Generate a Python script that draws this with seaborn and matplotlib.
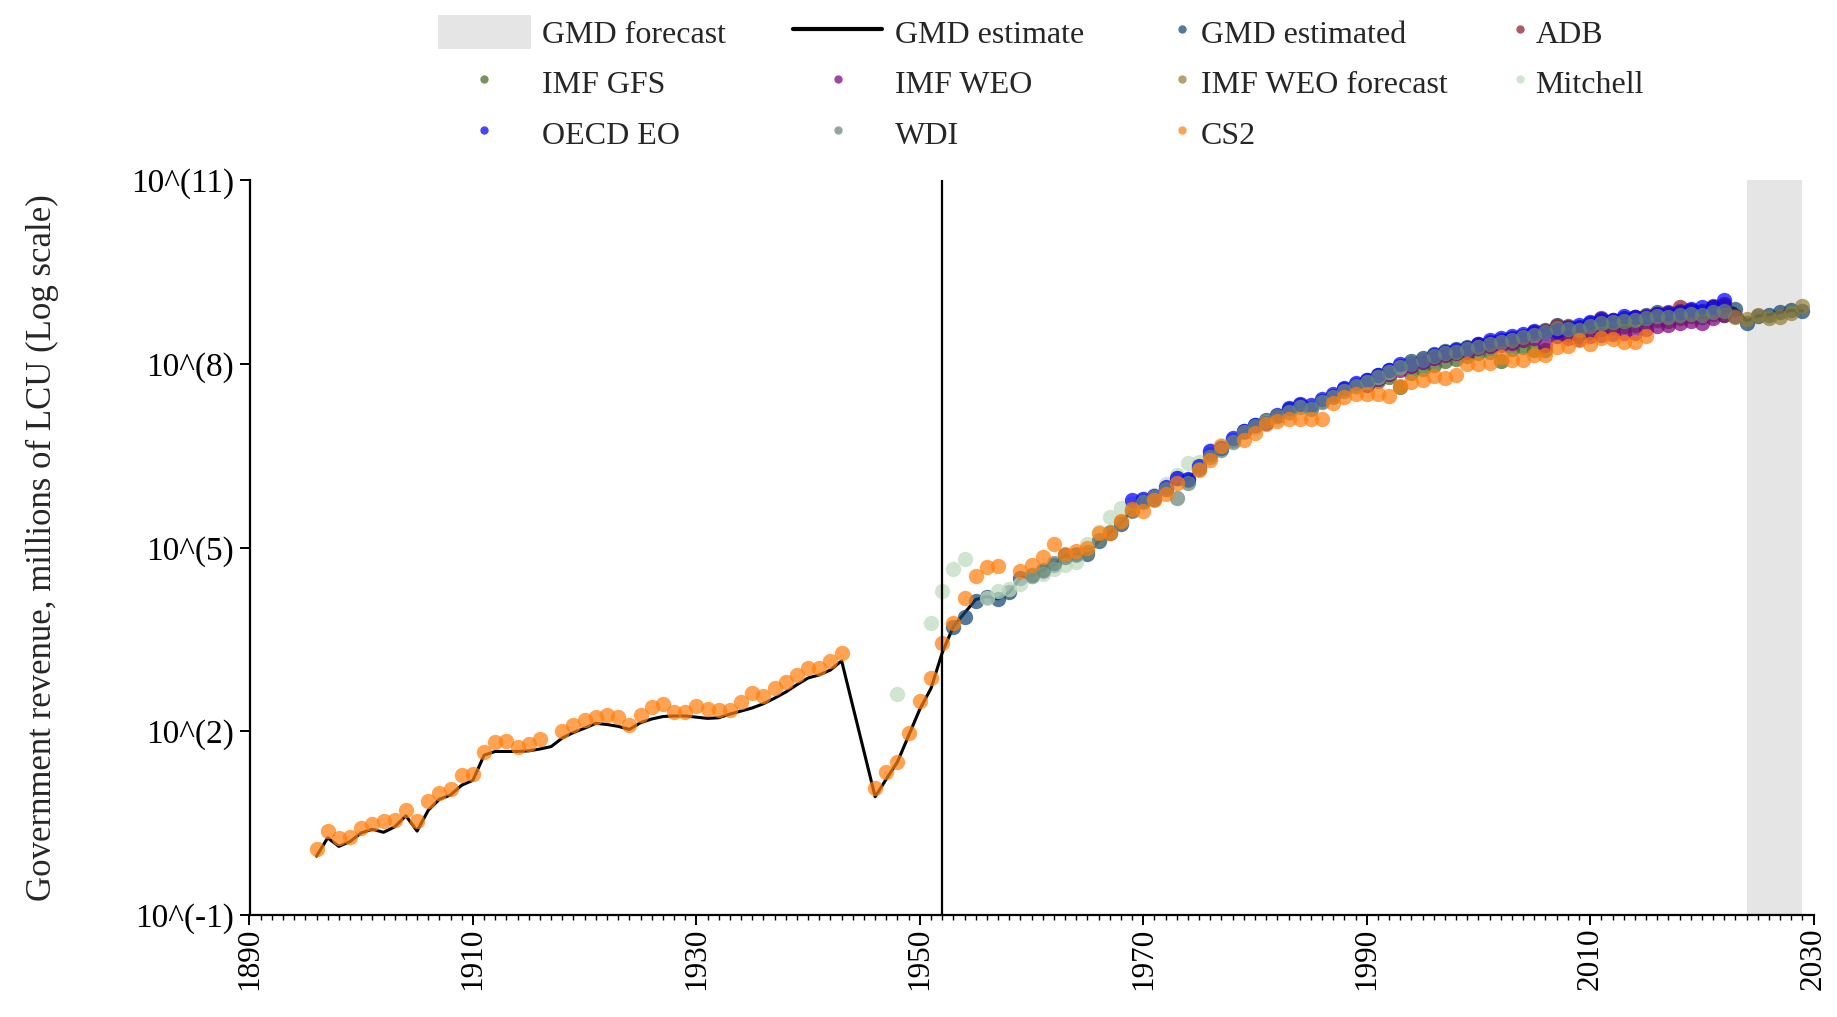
import numpy as np
import pandas as pd
import matplotlib
matplotlib.use("Agg")
import matplotlib.pyplot as plt
import seaborn as sns
from matplotlib.lines import Line2D
from matplotlib.patches import Patch
from matplotlib.ticker import MultipleLocator, FixedLocator, NullLocator

# ---------------- data (log10 of millions of LCU) ----------------
line_years = list(range(1896, 1944)) + list(range(1946, 2030))
line_log10 = [-0.04, 0.26, 0.12, 0.20, 0.34, 0.40, 0.35, 0.44, 0.62, 0.37,
              0.71, 0.89, 0.96, 1.12, 1.20, 1.61, 1.67, 1.67, 1.67, 1.68,
              1.71, 1.75, 1.89, 1.98, 2.05, 2.13, 2.11, 2.08, 2.03, 2.14,
              2.20, 2.24, 2.25, 2.25, 2.23, 2.21, 2.22, 2.28, 2.33, 2.38,
              2.45, 2.54, 2.64, 2.76, 2.87, 2.92, 3.00, 3.15,
              0.93, 1.22, 1.50, 1.93, 2.36, 2.70, 3.28, 3.71, 3.93, 4.15,
              4.20, 4.16, 4.27, 4.50, 4.54, 4.62, 4.72, 4.87, 4.88, 4.90,
              5.10, 5.24, 5.39, 5.62, 5.76, 5.80, 5.95, 6.14, 6.10, 6.30,
              6.52, 6.62, 6.75, 6.90, 7.00, 7.08, 7.14, 7.26, 7.32, 7.28,
              7.40, 7.48, 7.58, 7.66, 7.74, 7.82, 7.90, 7.97, 8.04, 8.10,
              8.16, 8.21, 8.24, 8.27, 8.32, 8.36, 8.38, 8.42, 8.46, 8.52,
              8.55, 8.64, 8.62, 8.60, 8.66, 8.70, 8.72, 8.74, 8.76, 8.80,
              8.84, 8.82, 8.86, 8.88, 8.86, 8.92, 8.95, 8.90, 8.70, 8.78,
              8.80, 8.84, 8.87, 8.86]

gmd_years = list(range(1953, 2030))
gmd_log10 = [3.71, 3.86, 4.12, 4.20, 4.16, 4.27, 4.50, 4.54, 4.62, 4.72,
             4.87, 4.88, 4.90, 5.10, 5.24, 5.39, 5.62, 5.76, 5.80, 5.95,
             6.14, 6.10, 6.30, 6.52, 6.62, 6.75, 6.90, 7.00, 7.08, 7.14,
             7.26, 7.32, 7.28, 7.40, 7.48, 7.58, 7.66, 7.74, 7.82, 7.90,
             7.97, 8.04, 8.10, 8.16, 8.21, 8.24, 8.27, 8.32, 8.36, 8.38,
             8.42, 8.46, 8.52, 8.55, 8.64, 8.62, 8.60, 8.66, 8.70, 8.72,
             8.74, 8.76, 8.80, 8.84, 8.82, 8.86, 8.88, 8.86, 8.92, 8.95,
             8.90, 8.67, 8.78, 8.80, 8.84, 8.87, 8.86]

adb_years = list(range(2000, 2023))
adb_log10 = [8.30, 8.34, 8.36, 8.40, 8.44, 8.50, 8.53, 8.62, 8.60, 8.58,
             8.64, 8.74, 8.70, 8.72, 8.76, 8.78, 8.82, 8.85, 8.92, 8.86,
             8.84, 8.95, 8.98]

gfs_years = list(range(1990, 2023))
gfs_log10 = [7.66, 7.72, 7.78, 7.62, 7.85, 7.92, 7.98, 8.04, 8.08, 8.12,
             8.18, 8.20, 8.04, 8.24, 8.28, 8.22, 8.23, 8.45, 8.48, 8.46,
             8.52, 8.56, 8.60, 8.62, 8.64, 8.68, 8.72, 8.70, 8.74, 8.78,
             8.76, 8.82, 8.80]

weo_years = list(range(1990, 2024))
weo_log10 = [7.66, 7.75, 7.83, 7.90, 7.96, 8.03, 8.09, 8.14, 8.17, 8.20,
             8.25, 8.29, 8.31, 8.34, 8.38, 8.42, 8.31, 8.45, 8.42, 8.40,
             8.45, 8.47, 8.48, 8.50, 8.51, 8.57, 8.61, 8.64, 8.66, 8.69,
             8.67, 8.75, 8.80, 8.78]

weof_years = list(range(2023, 2030))
weof_log10 = [8.76, 8.73, 8.80, 8.75, 8.77, 8.83, 8.94]

mitchell_years = [1948, 1951, 1952, 1953, 1954, 1956, 1957, 1958, 1959, 1960,
                  1961, 1962, 1963, 1964, 1965, 1966, 1967, 1968, 1969, 1970,
                  1971, 1972, 1973, 1974, 1975, 1976, 1977, 1978, 1979, 1980,
                  1981, 1982, 1983, 1984, 1985, 1986, 1987, 1988, 1989, 1990,
                  1991, 1992, 1993]
mitchell_log10 = [2.61, 3.77, 4.29, 4.65, 4.81, 4.17, 4.29, 4.32, 4.40, 4.53,
                  4.57, 4.65, 4.72, 4.77, 5.05, 5.25, 5.50, 5.65, 5.72, 5.80,
                  5.85, 6.03, 6.18, 6.38, 6.40, 6.60, 6.68, 6.75, 6.88, 6.95,
                  7.05, 7.12, 7.20, 7.30, 7.28, 7.38, 7.45, 7.55, 7.62, 7.70,
                  7.78, 7.86, 7.94]

oecd_years = list(range(1969, 2023))
oecd_log10 = [5.77, 5.80, 5.84, 5.98, 6.14, 6.12, 6.33, 6.57, 6.62, 6.78,
              6.91, 7.00, 7.04, 7.16, 7.28, 7.34, 7.32, 7.42, 7.50, 7.60,
              7.68, 7.74, 7.82, 7.90, 7.99, 8.00, 8.06, 8.14, 8.20, 8.22,
              8.26, 8.33, 8.38, 8.42, 8.45, 8.49, 8.54, 8.52, 8.54, 8.58,
              8.64, 8.68, 8.73, 8.72, 8.78, 8.76, 8.77, 8.82, 8.83, 8.84,
              8.90, 8.93, 8.92, 9.04]

wdi_years = list(range(1960, 2023))
wdi_log10 = [4.55, 4.64, 4.74, 4.85, 4.90, 4.93, 5.12, 5.26, 5.42, 5.60,
             5.74, 5.82, 5.96, 5.81, 6.06, 6.28, 6.48, 6.60, 6.72, 6.88,
             6.98, 7.06, 7.14, 7.22, 7.30, 7.26, 7.38, 7.46, 7.55, 7.63,
             7.70, 7.79, 7.86, 7.94, 8.00, 8.06, 8.12, 8.17, 8.20, 8.24,
             8.28, 8.32, 8.35, 8.39, 8.43, 8.47, 8.52, 8.58, 8.57, 8.55,
             8.62, 8.66, 8.68, 8.70, 8.72, 8.75, 8.78, 8.76, 8.80, 8.82,
             8.80, 8.84, 8.86]

cs2_years = (list(range(1896, 1917)) + list(range(1918, 1944)) +
             list(range(1946, 1958)) + list(range(1959, 1974)) +
             [1975, 1976, 1977] + list(range(1979, 2016)))
cs2_log10 = [0.07, 0.37, 0.26, 0.28, 0.42, 0.49, 0.54, 0.55, 0.71, 0.54,
             0.86, 1.00, 1.05, 1.29, 1.30, 1.66, 1.83, 1.84, 1.75, 1.79,
             1.87,
             2.00, 2.10, 2.18, 2.24, 2.27, 2.24, 2.11, 2.26, 2.39, 2.44,
             2.32, 2.32, 2.41, 2.36, 2.35, 2.35, 2.48, 2.62, 2.57, 2.70,
             2.80, 2.92, 3.04, 3.03, 3.14, 3.27,
             1.07, 1.33, 1.49, 1.97, 2.49, 2.87, 3.44, 3.77, 4.17, 4.54,
             4.68, 4.70,
             4.61, 4.72, 4.84, 5.06, 4.90, 4.94, 4.99, 5.24, 5.24, 5.44,
             5.63, 5.60, 5.78, 5.87, 6.06,
             6.26, 6.43, 6.65,
             6.76, 6.87, 7.01, 7.06, 7.10, 7.10, 7.10, 7.10, 7.36, 7.45,
             7.51, 7.50, 7.51, 7.48, 7.64, 7.71, 7.74, 7.80, 7.77, 7.81,
             7.99, 8.00, 8.02, 8.11, 8.06, 8.06, 8.15, 8.14, 8.28, 8.29,
             8.38, 8.32, 8.42, 8.40, 8.36, 8.35, 8.46]

y_tick_exponents = [-1, 2, 5, 8, 11]
x_ticks = list(range(1890, 2031, 20))
forecast_start, forecast_end = 2024, 2029
split_year = 1952

series = [
    ("GMD estimated", gmd_years, gmd_log10, "#134570"),
    ("ADB", adb_years, adb_log10, "#8d1a29"),
    ("IMF GFS", gfs_years, gfs_log10, "#456922"),
    ("IMF WEO", weo_years, weo_log10, "#7e007e"),
    ("IMF WEO forecast", weof_years, weof_log10, "#947e37"),
    ("Mitchell", mitchell_years, mitchell_log10, "#bfdbbf"),
    ("OECD EO", oecd_years, oecd_log10, "#0000ff"),
    ("WDI", wdi_years, wdi_log10, "#698677"),
    ("CS2", cs2_years, cs2_log10, "#ff7f0e"),
]

# ---------------- figure ----------------
sns.set_style("ticks")
plt.rcParams["font.family"] = ["Liberation Serif", "DejaVu Serif"]

W, H = 1837, 1017
fig = plt.figure(figsize=(W / 100, H / 100), dpi=100)
ax = fig.add_axes([249.5 / W, 1 - 915 / H, (1813.6 - 249.5) / W, (915 - 180) / H])

ax.axvspan(forecast_start, forecast_end, color="#e5e5e5", lw=0, zorder=0)

line_df = pd.DataFrame({"year": line_years, "value": np.power(10.0, line_log10)})
sns.lineplot(data=line_df, x="year", y="value", ax=ax, color="black", lw=2.2,
             estimator=None, zorder=2)

alpha = 0.72
for name, yrs, vals, col in series:
    df = pd.DataFrame({"year": yrs, "value": np.power(10.0, vals)})
    sns.scatterplot(data=df, x="year", y="value", ax=ax, color=col, s=122,
                    alpha=alpha, linewidth=0, legend=False, zorder=3)

ax.axvline(split_year, color="black", lw=1.6, zorder=4)

ax.set_yscale("log")
ax.set_ylim(10.0 ** -1, 10.0 ** 11)
ax.set_xlim(1890, 2030)
ax.yaxis.set_major_locator(FixedLocator([10.0 ** e for e in y_tick_exponents]))
ax.yaxis.set_minor_locator(NullLocator())
ax.set_yticklabels([f"10^({e})" for e in y_tick_exponents])
ax.set_xticks(x_ticks)
ax.set_xticklabels([str(t) for t in x_ticks])
ax.xaxis.set_minor_locator(MultipleLocator(1))

for s in ["top", "right"]:
    ax.spines[s].set_visible(False)
for s in ["left", "bottom"]:
    ax.spines[s].set_color("black")
    ax.spines[s].set_linewidth(1.6)

ax.tick_params(axis="both", which="major", direction="out", length=7, width=1.4,
               color="black", labelsize=24, labelcolor="black", pad=4,
               bottom=True, left=True)
ax.tick_params(axis="x", which="major", labelsize=22.5, pad=2, labelrotation=90)
ax.tick_params(axis="x", which="minor", direction="out", length=3.5, width=1.0,
               color="black", bottom=True)
ax.tick_params(axis="y", which="minor", left=False)

ax.set_xlabel("")
ax.set_ylabel("Government revenue, millions of LCU (Log scale)", fontsize=25)
ax.yaxis.set_label_coords(-0.122, 0.5)

# ---------------- legend (4 columns) ----------------
leg_fs = 23
def mk(col):
    return Line2D([], [], marker="o", linestyle="", markersize=6, color=col,
                  alpha=alpha, markeredgewidth=0)

colors = {n: c for n, _, _, c in series}
col_specs = [
    (438, [Patch(facecolor="#e5e5e5", edgecolor="none"), mk(colors["IMF GFS"]),
           mk(colors["OECD EO"])], ["GMD forecast", "IMF GFS", "OECD EO"], 2.9, 0.35),
    (793, [Line2D([], [], color="black", lw=3), mk(colors["IMF WEO"]),
           mk(colors["WDI"])], ["GMD estimate", "IMF WEO", "WDI"], 2.8, 0.4),
    (1172, [mk(colors["GMD estimated"]), mk(colors["IMF WEO forecast"]),
            mk(colors["CS2"])], ["GMD estimated", "IMF WEO forecast", "CS2"], 0.6, 0.3),
    (1510, [mk(colors["ADB"]), mk(colors["Mitchell"])], ["ADB", "Mitchell"], 0.6, 0.2),
]
for x0, hs, ls, hl, htp in col_specs:
    fig.legend(hs, ls, loc="upper left", bbox_to_anchor=(x0 / W, 1 - 15 / H),
               frameon=False, fontsize=leg_fs, borderpad=0, borderaxespad=0,
               handlelength=hl, handleheight=1.25, handletextpad=htp,
               labelspacing=0.5)

fig.savefig("out.png", dpi=100)
